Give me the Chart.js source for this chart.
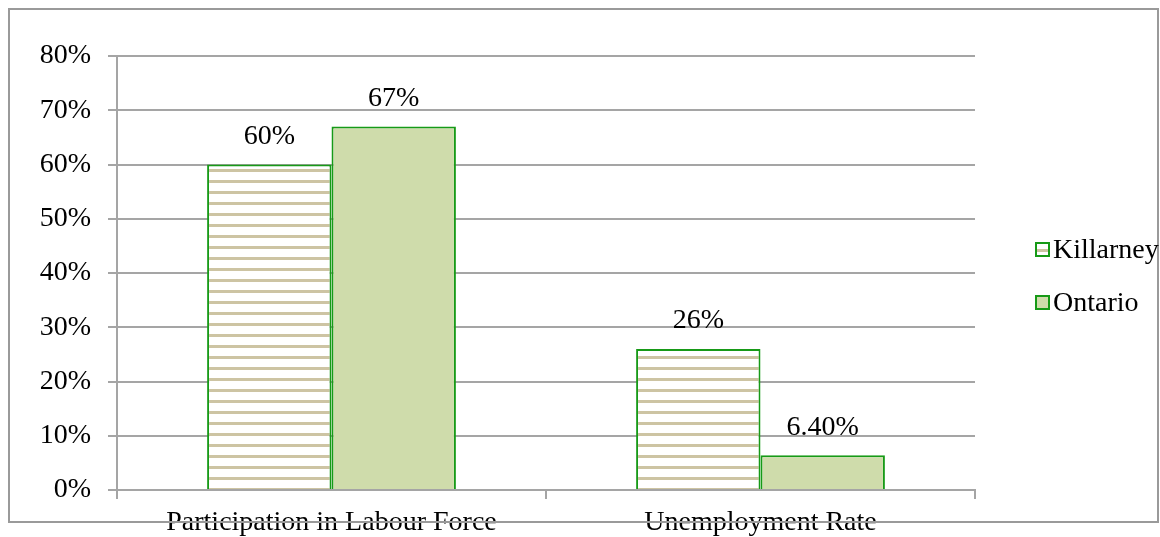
<!DOCTYPE html>
<html>
<head>
<meta charset="utf-8">
<script src="https://cdn.jsdelivr.net/npm/chart.js@4"></script>
<style>
  html, body { margin: 0; padding: 0; background: #fff; }
  #wrap { width: 1160px; height: 537px; position: relative; }
</style>
</head>
<body>
<div id="wrap"><canvas id="labourChart" width="1160" height="537"></canvas></div>
<script>
const categories = ["Participation in Labour Force", "Unemployment Rate"];
const seriesNames = ["Killarney", "Ontario"];
const killarneyValues = [60, 26];
const ontarioValues = [67, 6.4];
const valueLabels = [["60%", "26%"], ["67%", "6.40%"]];
const yTicks = [0, 10, 20, 30, 40, 50, 60, 70, 80];

const FONT = "'Liberation Serif', 'DejaVu Serif', serif";
const FONT_SIZE = 28;
const GREEN = "#179a17";
const ONTARIO_FILL = "#cfdcab";
const HATCH = "#cdc4a3";

// horizontal-stripe fill for the Killarney bars
function makeHatch() {
  const c = document.createElement("canvas");
  c.width = 8;
  c.height = 11;
  const g = c.getContext("2d");
  g.fillStyle = "#ffffff";
  g.fillRect(0, 0, 8, 11);
  g.fillStyle = HATCH;
  g.fillRect(0, 4, 8, 3);
  return g.createPattern(c, "repeat");
}

const ctx = document.getElementById("labourChart").getContext("2d");
const hatch = makeHatch();

const framePlugin = {
  id: "frame",
  beforeDraw(chart) {
    const g = chart.ctx;
    g.save();
    g.fillStyle = "#fff";
    g.fillRect(0, 0, chart.width, chart.height);
    g.restore();
  },
  afterDraw(chart) {
    const g = chart.ctx;
    g.save();
    g.strokeStyle = "#9a9a9a";
    g.lineWidth = 2;
    g.strokeRect(9, 9, 1149, 513);
    g.restore();
  },
};

const valueLabelPlugin = {
  id: "valueLabels",
  afterDatasetsDraw(chart) {
    const g = chart.ctx;
    g.save();
    g.font = FONT_SIZE + "px " + FONT;
    g.fillStyle = "#000";
    g.textAlign = "center";
    g.textBaseline = "middle";
    chart.data.datasets.forEach((ds, di) => {
      chart.getDatasetMeta(di).data.forEach((bar, i) => {
        g.fillText(valueLabels[di][i], bar.x, bar.y - 28);
      });
    });
    g.restore();
  },
};

const legendPlugin = {
  id: "sideLegend",
  afterDraw(chart) {
    const g = chart.ctx;
    const rows = [250, 303];
    g.save();
    g.font = FONT_SIZE + "px " + FONT;
    g.textBaseline = "middle";
    g.textAlign = "left";
    seriesNames.forEach((name, i) => {
      const y = rows[i];
      g.fillStyle = i === 0 ? "#fff" : ONTARIO_FILL;
      g.fillRect(1036, y - 7, 13, 13);
      if (i === 0) {
        g.fillStyle = HATCH;
        g.fillRect(1036, y - 1, 13, 3);
      }
      g.strokeStyle = GREEN;
      g.lineWidth = 2;
      g.strokeRect(1036, y - 7, 13, 13);
      g.fillStyle = "#000";
      g.fillText(name, 1053, y + 1);
    });
    g.restore();
  },
};

new Chart(ctx, {
  type: "bar",
  data: {
    labels: categories,
    datasets: [
      { label: seriesNames[0], data: killarneyValues, backgroundColor: hatch, borderColor: GREEN, borderWidth: 2 },
      { label: seriesNames[1], data: ontarioValues, backgroundColor: ONTARIO_FILL, borderColor: GREEN, borderWidth: 2 },
    ],
  },
  options: {
    responsive: false,
    animation: false,
    categoryPercentage: 0.58,
    barPercentage: 1,
    layout: { padding: { top: 56, left: 0, right: 185, bottom: 0 } },
    plugins: { legend: { display: false }, tooltip: { enabled: false } },
    scales: {
      x: {
        afterFit(scale) { scale.height = 47; },
        grid: { drawOnChartArea: false, drawTicks: true, tickLength: 9, color: "#a5a5a5", lineWidth: 2 },
        border: { display: true, color: "#a5a5a5", width: 2 },
        ticks: { color: "#000", font: { family: FONT, size: FONT_SIZE }, padding: 7, maxRotation: 0 },
      },
      y: {
        min: 0,
        max: 80,
        afterFit(scale) { scale.width = 117; },
        afterBuildTicks(scale) { scale.ticks = yTicks.map((v) => ({ value: v })); },
        grid: { color: "#a5a5a5", lineWidth: 2, tickLength: 9 },
        border: { display: true, color: "#a5a5a5", width: 2 },
        ticks: { color: "#000", font: { family: FONT, size: FONT_SIZE }, padding: 17, callback: (v) => v + "%" },
      },
    },
  },
  plugins: [framePlugin, valueLabelPlugin, legendPlugin],
});
</script>
</body>
</html>
